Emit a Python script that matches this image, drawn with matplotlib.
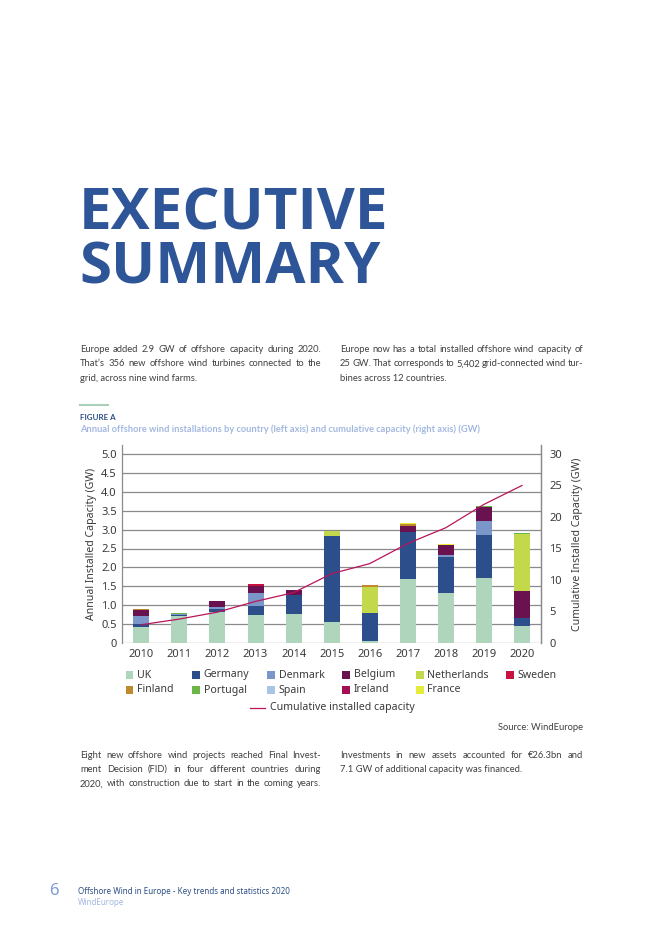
import matplotlib
matplotlib.use("Agg")
import matplotlib.pyplot as plt
from matplotlib.patches import Rectangle
from matplotlib.lines import Line2D
import numpy as np

# ---------------- data ----------------
years = ["2010", "2011", "2012", "2013", "2014", "2015", "2016", "2017", "2018", "2019", "2020"]
uk          = [0.43, 0.71, 0.81, 0.73, 0.78, 0.56, 0.05, 1.68, 1.31, 1.73, 0.45]
germany     = [0.06, 0.04, 0.08, 0.24, 0.49, 2.26, 0.74, 1.25, 0.96, 1.12, 0.20]
denmark     = [0.22, 0.03, 0.06, 0.34, 0.00, 0.00, 0.00, 0.00, 0.05, 0.37, 0.00]
belgium     = [0.16, 0.00, 0.16, 0.21, 0.14, 0.00, 0.00, 0.17, 0.28, 0.39, 0.73]
netherlands = [0.00, 0.00, 0.00, 0.00, 0.00, 0.13, 0.70, 0.00, 0.00, 0.00, 1.50]
sweden      = [0.00, 0.00, 0.00, 0.03, 0.00, 0.02, 0.00, 0.00, 0.00, 0.00, 0.00]
finland     = [0.02, 0.00, 0.00, 0.00, 0.00, 0.00, 0.04, 0.06, 0.00, 0.00, 0.00]
portugal    = [0.00, 0.01, 0.00, 0.00, 0.00, 0.00, 0.00, 0.00, 0.00, 0.01, 0.02]
spain       = [0.00, 0.00, 0.00, 0.00, 0.00, 0.00, 0.00, 0.00, 0.00, 0.00, 0.00]
ireland     = [0.00, 0.00, 0.00, 0.00, 0.00, 0.00, 0.00, 0.00, 0.00, 0.00, 0.00]
france      = [0.00, 0.00, 0.00, 0.00, 0.00, 0.00, 0.00, 0.01, 0.02, 0.00, 0.00]
cumulative  = [2.9, 3.8, 4.9, 6.6, 8.0, 11.0, 12.6, 15.8, 18.3, 22.0, 25.0]

left_ticks = [0, 0.5, 1.0, 1.5, 2.0, 2.5, 3.0, 3.5, 4.0, 4.5, 5.0]
left_tick_labels = ["0", "0.5", "1.0", "1.5", "2.0", "2.5", "3.0", "3.5", "4.0", "4.5", "5.0"]
right_ticks = [0, 5, 10, 15, 20, 25, 30]

series = [
    ("UK", uk, "#b0d5bd"),
    ("Germany", germany, "#2c4f8c"),
    ("Denmark", denmark, "#7b97c9"),
    ("Belgium", belgium, "#6a1150"),
    ("Netherlands", netherlands, "#c3d84a"),
    ("Sweden", sweden, "#c8113f"),
    ("Finland", finland, "#c08a2c"),
    ("Portugal", portugal, "#6cb548"),
    ("Spain", spain, "#a9c4e6"),
    ("Ireland", ireland, "#a30f52"),
    ("France", france, "#e6ec3c"),
]
line_color = "#b8155a"

# ---------------- figure ----------------
W, H = 662, 936
fig = plt.figure(figsize=(W / 100, H / 100), dpi=100)
fig.patch.set_facecolor("white")

def fx(x):
    return x / W

def fy(y):
    return 1 - y / H

BODY = "Lato"
CHART = "Noto Sans"
body_color = "#404040"
title_color = "#2e5597"
renderer = fig.canvas.get_renderer()
BODY_SIZE = 6.75

def justify(x0, x1, y, text, size=BODY_SIZE, color=body_color, family=BODY, justified=True):
    words = text.split(" ")
    if not justified or len(words) == 1:
        fig.text(fx(x0), fy(y), text, fontsize=size, color=color, family=family, va="baseline", ha="left")
        return
    arts = [fig.text(0, fy(y), w, fontsize=size, color=color, family=family, va="baseline", ha="left") for w in words]
    widths = [a.get_window_extent(renderer).width for a in arts]
    gap = (x1 - x0 - sum(widths)) / (len(words) - 1)
    x = x0
    for a, w in zip(arts, widths):
        a.set_x(fx(x))
        x += w + gap

# Title
fig.text(fx(79), fy(230), "EXECUTIVE", fontsize=42, fontweight="bold", color=title_color, family="Open Sans", va="baseline", ha="left")
fig.text(fx(79), fy(283.5), "SUMMARY", fontsize=42, fontweight="bold", color=title_color, family="Open Sans", va="baseline", ha="left")

# Intro paragraphs
L0, L1, R0, R1 = 80, 321, 340, 583
justify(L0, L1, 352, "Europe added 2.9 GW of offshore capacity during 2020.")
justify(L0, L1, 366.5, "That\u2019s 356 new offshore wind turbines connected to the")
justify(L0, L1, 381, "grid, across nine wind farms.", justified=False)
justify(R0, R1, 352, "Europe now has a total installed offshore wind capacity of")
justify(R0, R1, 366.5, "25 GW. That corresponds to 5,402 grid-connected wind tur-")
justify(R0, R1, 381, "bines across 12 countries.", justified=False)

# Figure label
fig.add_artist(Line2D([fx(80), fx(108)], [fy(405), fy(405)], color="#a8d0b8", lw=1.5))
fig.text(fx(80), fy(418), "FIGURE A", fontsize=5.8, fontweight="bold", color="#2e4f86", family=BODY, va="center", ha="left")
fig.text(fx(80), fy(429.5), "Annual offshore wind installations by country (left axis) and cumulative capacity (right axis) (GW)",
         fontsize=6.65, fontweight="bold", color="#a3b8e0", family=BODY, va="center", ha="left")

# ---------------- chart ----------------
ax_left, ax_right, ax_bottom, ax_top = 122.3, 541, 643, 445
ax = fig.add_axes([fx(ax_left), fy(ax_bottom), (ax_right - ax_left) / W, (ax_bottom - ax_top) / H])
x = np.arange(len(years))
bottom = np.zeros(len(years))
for name, vals, col in series:
    v = np.array(vals)
    ax.bar(x, v, bottom=bottom, width=0.42, color=col, zorder=3, linewidth=0)
    bottom += v

top_left = 5.0 * (ax_bottom - ax_top) / 189.0
ax.set_ylim(0, top_left)
ax.set_xlim(-0.5, 10.5)
ax.set_yticks(left_ticks)
ax.set_yticklabels(left_tick_labels)
ax.set_xticks(x)
ax.set_xticklabels(years)
ax.yaxis.grid(True, color="#8a8a8a", linewidth=0.9, zorder=0)
ax.set_axisbelow(True)
for s in ["top", "bottom"]:
    ax.spines[s].set_visible(False)
ax.spines["left"].set_color("#8a8a8a")
ax.spines["right"].set_color("#8a8a8a")
ax.spines["left"].set_linewidth(0.9)
ax.spines["right"].set_linewidth(0.9)
ax.tick_params(axis="both", length=0, labelsize=8.0, labelcolor="#3a3a3a", pad=4)
for lbl in ax.get_xticklabels() + ax.get_yticklabels():
    lbl.set_family(CHART)
ax.set_ylabel("Annual Installed Capacity (GW)", fontsize=7.6, color="#3a3a3a", family=CHART, labelpad=3)

ax2 = ax.twinx()
ax2.plot(x, cumulative, color=line_color, linewidth=0.9, zorder=5)
ax2.set_ylim(0, 30 * (ax_bottom - ax_top) / 189.0)
ax2.set_yticks(right_ticks)
ax2.tick_params(axis="y", length=0, labelsize=8.0, labelcolor="#3a3a3a", pad=6)
for lbl in ax2.get_yticklabels():
    lbl.set_family(CHART)
for s in ["top", "bottom", "left"]:
    ax2.spines[s].set_visible(False)
ax2.spines["right"].set_color("#8a8a8a")
ax2.spines["right"].set_linewidth(0.9)
ax2.set_ylabel("Cumulative Installed Capacity (GW)", fontsize=7.6, color="#3a3a3a", family=CHART, labelpad=7)

# ---------------- legend ----------------
col_sq = [125.5, 192.3, 267.3, 342.3, 416, 506]
row_y = [675, 690]
sq = 7.5
for i, (name, vals, col) in enumerate(series):
    r, c = divmod(i, 6)
    xs, yc = col_sq[c], row_y[r]
    fig.add_artist(Rectangle((fx(xs), fy(yc + sq / 2)), sq / W, sq / H, color=col, transform=fig.transFigure, lw=0))
    fig.text(fx(xs + 11.5), fy(yc), name, fontsize=7.6, color="#3a3a3a", family=CHART, va="center", ha="left")
fig.add_artist(Line2D([fx(250), fx(265)], [fy(707.5), fy(707.5)], color=line_color, lw=0.9))
fig.text(fx(270.5), fy(707.5), "Cumulative installed capacity", fontsize=7.6, color="#3a3a3a", family=CHART, va="center", ha="left")

fig.text(fx(583), fy(729.5), "Source: WindEurope", fontsize=BODY_SIZE, color=body_color, family=BODY, va="baseline", ha="right")

# Bottom paragraphs
justify(L0, L1, 757.5, "Eight new offshore wind projects reached Final Invest-")
justify(L0, L1, 772, "ment Decision (FID) in four different countries during")
justify(L0, L1, 786.5, "2020, with construction due to start in the coming years.")
justify(R0, R1, 757.5, "Investments in new assets accounted for \u20ac26.3bn and")
justify(R0, R1, 772, "7.1 GW of additional capacity was financed.", justified=False)

# Footer
fig.text(fx(49), fy(891), "6", fontsize=12, color="#7d9ad6", family=CHART, va="center", ha="left")
fig.text(fx(77.5), fy(892), "Offshore Wind in Europe - Key trends and statistics 2020", fontsize=5.8, color="#2e4f86", family=CHART, va="center", ha="left")
fig.text(fx(77.5), fy(902.5), "WindEurope", fontsize=5.8, color="#a3b8e0", family=CHART, va="center", ha="left")

fig.savefig("out.png", dpi=100, facecolor="white")
